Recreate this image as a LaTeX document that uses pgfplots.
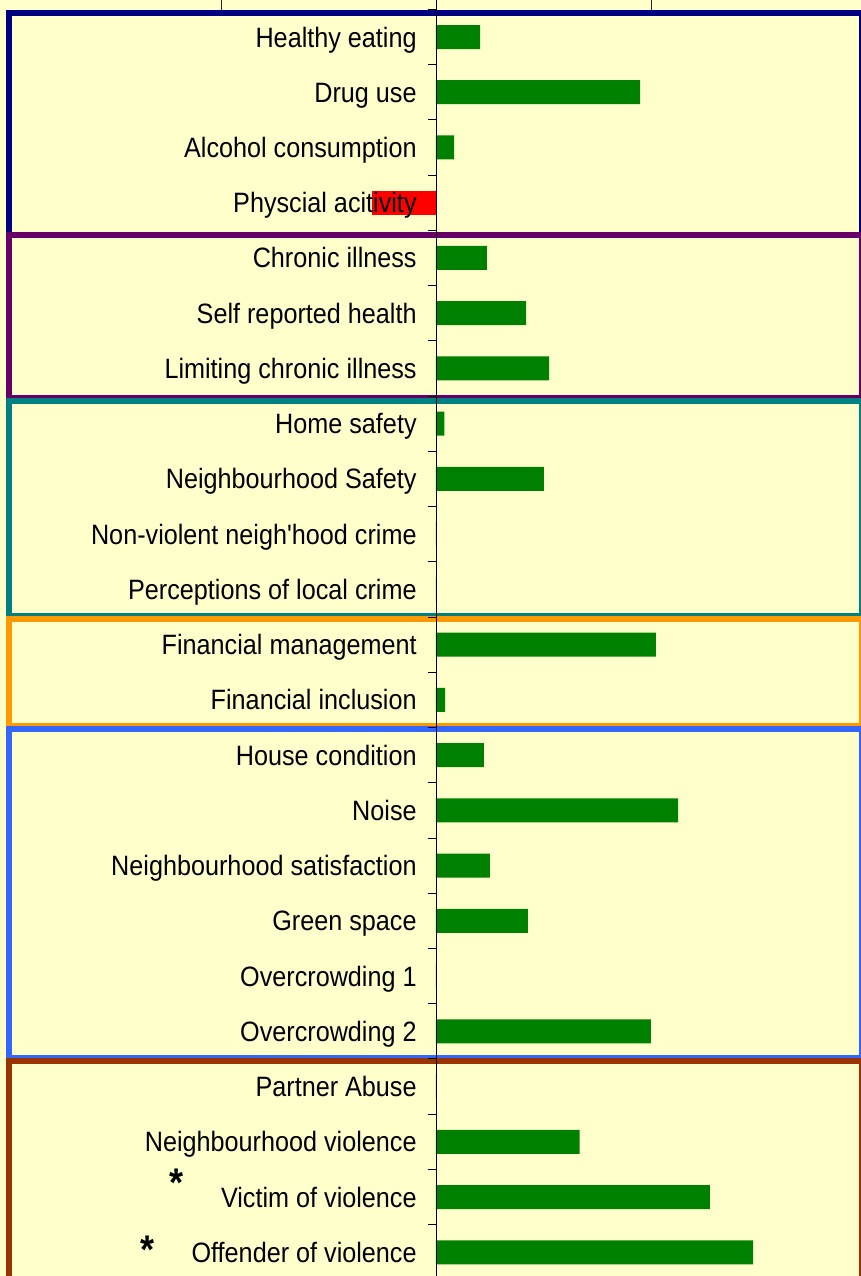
\documentclass[border=0pt]{standalone}
\usepackage{fontspec}
\setmainfont{Liberation Sans}[FakeStretch=0.9, Ligatures=TeXOff]
\usepackage{pgfplots}
\pgfplotsset{compat=1.18}
\definecolor{bgyellow}{HTML}{FFFFCC}
\definecolor{barGreen}{HTML}{008000}
\definecolor{bNavy}{HTML}{000080}
\definecolor{bPurple}{HTML}{660066}
\definecolor{bTeal}{HTML}{008080}
\definecolor{bOrange}{HTML}{FF9900}
\definecolor{bBlue}{HTML}{3366FF}
\definecolor{bBrown}{HTML}{993300}
\begin{document}
\begin{tikzpicture}
\begin{axis}[
  scale only axis, width=861pt, height=1276pt,
  xmin=-2.028, xmax=1.977, ymin=0.33, ymax=23.43,
  y dir=reverse,
  axis background/.style={fill=bgyellow},
  axis line style={draw=none},
  xtick={-1,0,1}, xticklabels={}, ytick=\empty,
  major tick length=0pt,
  xmajorgrids, grid style={black!85, line width=0.8pt},
  xbar, bar width=24pt, bar shift=0pt,
  clip=true,
]
% group boxes
\filldraw[fill=bgyellow, draw=bNavy, line width=6pt]   (axis cs:-1.986,0.565) rectangle (axis cs:1.981,4.62);
\filldraw[fill=bgyellow, draw=bPurple, line width=6pt] (axis cs:-1.986,4.585) rectangle (axis cs:1.981,7.53);
\filldraw[fill=bgyellow, draw=bTeal, line width=6pt]   (axis cs:-1.986,7.582) rectangle (axis cs:1.981,11.49);
\filldraw[fill=bgyellow, draw=bOrange, line width=6pt] (axis cs:-1.986,11.538) rectangle (axis cs:1.981,13.48);
\filldraw[fill=bgyellow, draw=bBlue, line width=6pt]   (axis cs:-1.986,13.529) rectangle (axis cs:1.981,19.49);
\filldraw[fill=bgyellow, draw=bBrown, line width=6pt]  (axis cs:-1.986,19.54) rectangle (axis cs:1.981,23.9);
% bars
\addplot[fill=barGreen, draw=none] coordinates {
 (0.205,1) (0.949,2) (0.084,3)
 (0.237,5) (0.419,6) (0.526,7)
 (0.039,8) (0.502,9) (0,10) (0,11)
 (1.023,12) (0.042,13)
 (0.223,14) (1.126,15) (0.251,16) (0.428,17) (0,18) (1.000,19)
 (0,20) (0.668,21) (1.274,22) (1.475,23)
};
\addplot[fill=red, draw=none] coordinates {(-0.298,4)};
% zero line and ticks
\draw[black, line width=0.9pt] (axis cs:0,0.33) -- (axis cs:0,23.43);
\pgfplotsinvokeforeach{0.5,1.5,2.5,3.5,4.5,5.5,6.5,7.5,8.5,9.5,10.5,11.5,12.5,13.5,14.5,15.5,16.5,17.5,18.5,19.5,20.5,21.5,22.5}{
  \draw[black, line width=0.9pt] (axis cs:0,#1) -- (axis cs:-0.037,#1);
}
% labels
\begin{scope}[every node/.style={anchor=base east, inner sep=0pt, font=\fontsize{28}{32}\selectfont}]
\node at (axis cs:-0.089,1.181) {Healthy eating};
\node at (axis cs:-0.089,2.181) {Drug use};
\node at (axis cs:-0.089,3.181) {Alcohol consumption};
\node at (axis cs:-0.089,4.181) {Physcial acitivity};
\node at (axis cs:-0.089,5.181) {Chronic illness};
\node at (axis cs:-0.089,6.181) {Self reported health};
\node at (axis cs:-0.089,7.181) {Limiting chronic illness};
\node at (axis cs:-0.089,8.181) {Home safety};
\node at (axis cs:-0.089,9.181) {Neighbourhood Safety};
\node at (axis cs:-0.089,10.181) {Non-violent neigh'hood crime};
\node at (axis cs:-0.089,11.181) {Perceptions of local crime};
\node at (axis cs:-0.089,12.181) {Financial management};
\node at (axis cs:-0.089,13.181) {Financial inclusion};
\node at (axis cs:-0.089,14.181) {House condition};
\node at (axis cs:-0.089,15.181) {Noise};
\node at (axis cs:-0.089,16.181) {Neighbourhood satisfaction};
\node at (axis cs:-0.089,17.181) {Green space};
\node at (axis cs:-0.089,18.181) {Overcrowding 1};
\node at (axis cs:-0.089,19.181) {Overcrowding 2};
\node at (axis cs:-0.089,20.181) {Partner Abuse};
\node at (axis cs:-0.089,21.181) {Neighbourhood violence};
\node at (axis cs:-0.089,22.181) {Victim of violence};
\node at (axis cs:-0.089,23.181) {Offender of violence};
\end{scope}
\node[anchor=base, inner sep=0pt, font=\fontsize{40}{44}\selectfont\bfseries] at (axis cs:-1.205,21.985) {*};
\node[anchor=base, inner sep=0pt, font=\fontsize{40}{44}\selectfont\bfseries] at (axis cs:-1.344,23.198) {*};
\end{axis}
\pgfresetboundingbox
\useasboundingbox (current axis.south west) rectangle (current axis.north east);
\end{tikzpicture}
\end{document}
